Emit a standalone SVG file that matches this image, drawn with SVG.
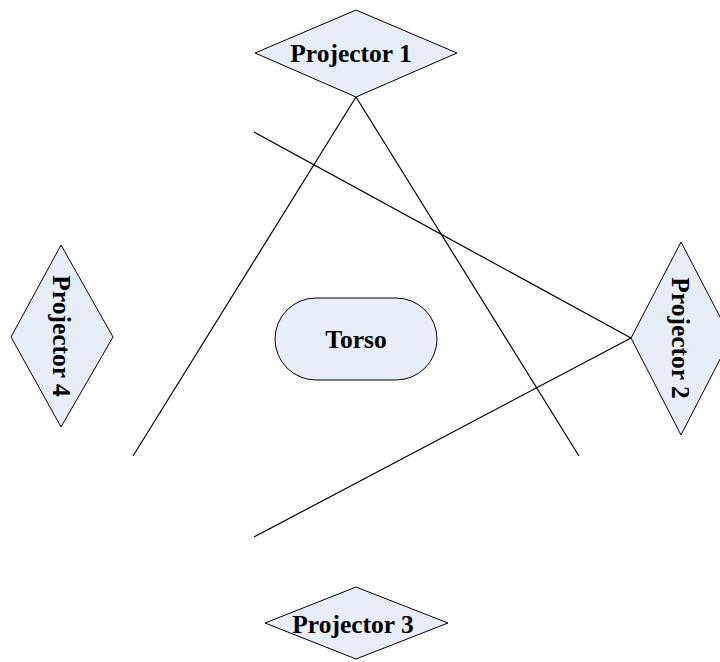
<svg xmlns="http://www.w3.org/2000/svg" width="720" height="662" viewBox="0 0 720 662">
  <style>
    .shape { fill: #E8EEF8; stroke: #000; stroke-width: 1; }
    .label { font-family: "Liberation Serif", "Times New Roman", serif; font-weight: bold; font-size: 25.5px; fill: #000; text-anchor: middle; }
    .wire { stroke: #000; stroke-width: 1.2; fill: none; }
  </style>
  <rect width="720" height="662" fill="#fff"/>

  <g id="connectors">
    <line class="wire" x1="356" y1="97" x2="133" y2="456"/>
    <line class="wire" x1="356" y1="97" x2="579" y2="456"/>
    <line class="wire" x1="254" y1="132" x2="631" y2="338"/>
    <line class="wire" x1="631" y1="338" x2="254" y2="537"/>
  </g>

  <g id="projector1">
    <polygon class="shape" points="356,10 457,53 356,97 255,53"/>
    <text class="label" x="351" y="62">Projector 1</text>
  </g>

  <g id="projector2">
    <polygon class="shape" points="681,242 731,338 681,435 631,338"/>
    <text class="label" transform="translate(681,338) rotate(90)" x="0" y="9">Projector 2</text>
  </g>

  <g id="projector3">
    <polygon class="shape" points="356,587 448,623 356,659 265,623"/>
    <text class="label" x="353" y="633">Projector 3</text>
  </g>

  <g id="projector4">
    <polygon class="shape" points="61,245 113,337 61,427 11,337"/>
    <text class="label" transform="translate(62,336) rotate(90)" x="0" y="9">Projector 4</text>
  </g>

  <g id="torso">
    <rect class="shape" x="275" y="298" width="162" height="82" rx="41" ry="41"/>
    <text class="label" x="356" y="348">Torso</text>
  </g>
</svg>
